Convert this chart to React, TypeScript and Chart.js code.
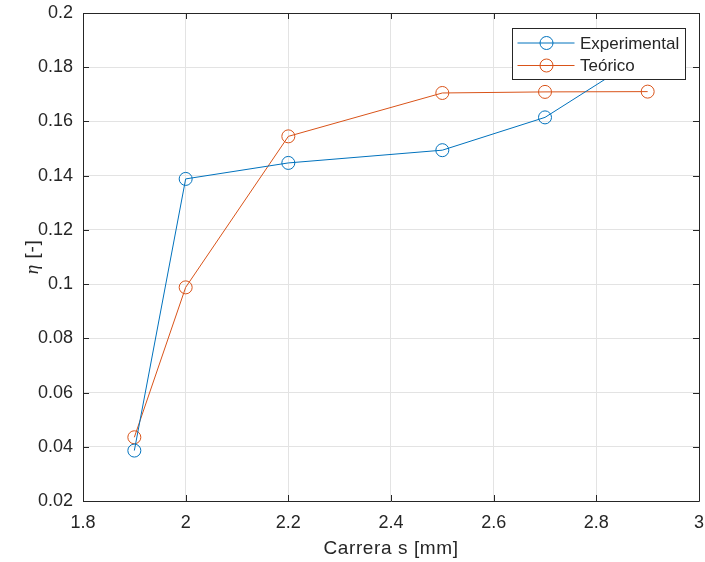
import React, { useEffect, useRef } from "react";
import { Chart, registerables } from "chart.js";

Chart.register(...registerables);

const carrera = [1.9, 2.0, 2.2, 2.5, 2.7, 2.9];
const experimental = [0.0386, 0.1388, 0.1447, 0.1494, 0.1615, 0.1855];
const teorico = [0.0435, 0.0988, 0.1545, 0.1705, 0.1709, 0.171];
const seriesNames = ["Experimental", "Teórico"];
const seriesColors = ["#0072BD", "#D95319"];
const xTitle = "Carrera s [mm]";
const yTitleSymbol = "η";
const yTitleRest = " [-]";
const xRange = [1.8, 3, 0.2];
const yRange = [0.02, 0.2, 0.02];

const FONT = "'Liberation Sans', Arial, sans-serif";
const TEXT = "#262626";

const matlabPlugin = {
  id: "matlabDecor",
  afterDatasetsDraw(chart: any) {
    const { ctx, chartArea: a, scales } = chart;
    ctx.save();
    ctx.strokeStyle = TEXT;
    ctx.lineWidth = 1;
    ctx.beginPath();
    ctx.rect(Math.round(a.left) + 0.5, Math.round(a.top) + 0.5, Math.round(a.right - a.left), Math.round(a.bottom - a.top));
    ctx.stroke();
    const tl = 6;
    ctx.beginPath();
    scales.x.ticks.forEach((t: any) => {
      const px = Math.round(scales.x.getPixelForValue(t.value)) + 0.5;
      ctx.moveTo(px, a.bottom);
      ctx.lineTo(px, a.bottom - tl);
      ctx.moveTo(px, a.top);
      ctx.lineTo(px, a.top + tl);
    });
    scales.y.ticks.forEach((t: any) => {
      const py = Math.round(scales.y.getPixelForValue(t.value)) + 0.5;
      ctx.moveTo(a.left, py);
      ctx.lineTo(a.left + tl, py);
      ctx.moveTo(a.right, py);
      ctx.lineTo(a.right - tl, py);
    });
    ctx.stroke();
    ctx.restore();
  },
  afterDraw(chart: any) {
    const { ctx, chartArea: a } = chart;
    ctx.save();
    // axis titles
    ctx.fillStyle = TEXT;
    ctx.font = `19px ${FONT}`;
    (ctx as any).letterSpacing = "0.6px";
    ctx.textAlign = "center";
    ctx.textBaseline = "middle";
    ctx.fillText(xTitle, (a.left + a.right) / 2, 549);
    ctx.save();
    ctx.translate(33, (a.top + a.bottom) / 2);
    ctx.rotate(-Math.PI / 2);
    ctx.font = `italic 19px 'Liberation Serif', serif`;
    const w1 = ctx.measureText(yTitleSymbol).width;
    ctx.font = `19px ${FONT}`;
    const w2 = ctx.measureText(yTitleRest).width;
    const start = -(w1 + w2) / 2;
    ctx.textAlign = "left";
    ctx.font = `italic 19px 'Liberation Serif', serif`;
    ctx.fillText(yTitleSymbol, start, 0);
    ctx.font = `19px ${FONT}`;
    ctx.fillText(yTitleRest, start + w1, 0);
    ctx.restore();
    (ctx as any).letterSpacing = "0px";
    // legend
    const lx = 512.5, ly = 28.5, lw = 173, lh = 51;
    ctx.fillStyle = "#ffffff";
    ctx.fillRect(lx, ly, lw, lh);
    ctx.strokeStyle = TEXT;
    ctx.lineWidth = 1;
    ctx.strokeRect(lx, ly, lw, lh);
    ctx.font = `17px ${FONT}`;
    ctx.textAlign = "left";
    ctx.textBaseline = "middle";
    chart.data.datasets.forEach((ds: any, i: number) => {
      const yy = ly + 14.5 + i * 22.5;
      ctx.strokeStyle = ds.borderColor;
      ctx.lineWidth = 1;
      ctx.beginPath();
      ctx.moveTo(lx + 5, yy);
      ctx.lineTo(lx + 62, yy);
      ctx.stroke();
      ctx.beginPath();
      ctx.arc(lx + 34, yy, 6.5, 0, Math.PI * 2);
      ctx.stroke();
      ctx.fillStyle = TEXT;
      ctx.fillText(ds.label, lx + 67.5, yy + 1);
    });
    ctx.restore();
  },
};

export default function App() {
  const ref = useRef<HTMLCanvasElement>(null);
  useEffect(() => {
    if (!ref.current) return;
    const fmt = (v: any) => String(Number(Number(v).toFixed(3)));
    const chart = new Chart(ref.current, {
      type: "line",
      data: {
        datasets: [experimental, teorico].map((vals, i) => ({
          label: seriesNames[i],
          data: carrera.map((x, j) => ({ x, y: vals[j] })),
          borderColor: seriesColors[i],
          backgroundColor: "transparent",
          pointBackgroundColor: "transparent",
          pointBorderColor: seriesColors[i],
          pointRadius: 6.5,
          pointBorderWidth: 1,
          borderWidth: 1,
          tension: 0,
          fill: false,
        })),
      },
      options: {
        animation: false,
        responsive: false,
        maintainAspectRatio: false,
        layout: { autoPadding: false, padding: { left: 0, right: 6, top: 13, bottom: 0 } },
        plugins: { legend: { display: false }, tooltip: { enabled: false } },
        scales: {
          x: {
            type: "linear",
            min: xRange[0],
            max: xRange[1],
            afterFit: (s: any) => {
              s.height = 61;
              s.paddingLeft = 0;
              s.paddingRight = 0;
            },
            grid: { color: "#e3e3e3", drawTicks: false },
            border: { display: false },
            ticks: {
              stepSize: xRange[2],
              color: TEXT,
              font: { family: FONT, size: 18 },
              padding: 11,
              maxRotation: 0,
              callback: fmt,
            },
          },
          y: {
            type: "linear",
            min: yRange[0],
            max: yRange[1],
            afterFit: (s: any) => {
              s.width = 83;
              s.paddingTop = 0;
              s.paddingBottom = 0;
            },
            grid: { color: "#e3e3e3", drawTicks: false },
            border: { display: false },
            ticks: {
              stepSize: yRange[2],
              color: TEXT,
              font: { family: FONT, size: 18 },
              padding: 10,
              callback: fmt,
            },
          },
        },
      },
      plugins: [matlabPlugin],
    } as any);
    return () => chart.destroy();
  }, []);
  return (
    <div style={{ position: "fixed", left: 0, top: 0, width: 705, height: 562, background: "#fff" }}>
      <canvas ref={ref} width={705} height={562} style={{ width: 705, height: 562 }} />
    </div>
  );
}
